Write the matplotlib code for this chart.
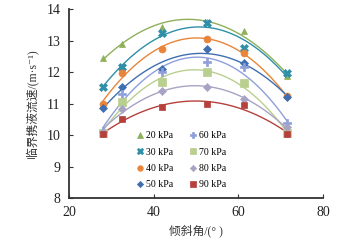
import numpy as np
import matplotlib
matplotlib.use('Agg')
import matplotlib.pyplot as plt

plt.rcParams['font.family'] = ['Liberation Serif', 'Noto Sans CJK SC', 'DejaVu Sans']

# inclination angle (deg)
angles = [28, 32.6, 42, 52.5, 61.3, 71.4]

# critical liquid-carrying velocity (m/s) per pressure
labels = ['20 kPa', '30 kPa', '40 kPa', '50 kPa', '60 kPa', '70 kPa', '80 kPa', '90 kPa']
v20 = [12.45, 12.89, 13.43, 13.60, 13.30, 11.87]
v30 = [11.52, 12.17, 13.24, 13.55, 12.76, 11.97]
v40 = [10.98, 11.98, 12.73, 13.05, 12.60, 11.24]
v50 = [10.86, 11.53, 12.10, 12.73, 12.29, 11.22]
v60 = [10.12, 11.30, 12.00, 12.33, 12.16, 10.38]
v70 = [10.06, 11.05, 11.68, 12.00, 11.65, 10.06]
v80 = [10.10, 10.83, 11.40, 11.52, 11.14, 10.25]
v90 = [10.03, 10.51, 10.89, 10.98, 10.95, 10.04]
series = [v20, v30, v40, v50, v60, v70, v80, v90]

colors = ['#8FB05A', '#2F8FA8', '#E8853A', '#3F6FB0',
          '#8F9FDB', '#B9CF8F', '#A8A3C4', '#B5403C']
markers = ['^', 'X', 'o', 'D', 'P', 's', 'D', 's']
msizes = [5, 6, 5, 4, 6, 6, 4, 5]

fig = plt.figure(figsize=(3.59, 2.48), dpi=100)
ax = fig.add_axes([0.192, 0.2016, 0.7075, 0.762])

x = np.array(angles)
xs = np.linspace(x.min(), x.max(), 100)
for y, c, m, ms, lab in zip(series, colors, markers, msizes, labels):
    coef = np.polyfit(x, y, 2)
    ax.plot(xs, np.polyval(coef, xs), color=c, linewidth=1.0)
    ax.plot(x, y, linestyle='none', marker=m, color=c, markersize=ms,
            markeredgewidth=0.5, label=lab, zorder=5)

ax.set_xlim(20, 80)
ax.set_ylim(8, 14)
ax.set_xticks([20, 40, 60, 80])
ax.set_yticks(range(8, 15))
for s in ['top', 'right']:
    ax.spines[s].set_visible(False)
for s in ['left', 'bottom']:
    ax.spines[s].set_linewidth(1.3)
    ax.spines[s].set_color('#333333')
ax.tick_params(direction='in', length=3, width=0.8, labelsize=10, colors='#333333',
               labelcolor='#222222', pad=6)

ax.set_xlabel('倾斜角/(° )', fontsize=8.5, color='#333333', labelpad=4)
ax.set_ylabel('临界携液流速/(m·s⁻¹)', fontsize=8.5, color='#333333', labelpad=6)

ax.legend(ncol=2, loc='lower center', bbox_to_anchor=(0.44, 0.0), frameon=False,
          fontsize=7, handletextpad=0.1, columnspacing=1.6, labelspacing=0.75,
          handlelength=1.0, markerscale=0.8)

fig.savefig('out.png', dpi=100)
